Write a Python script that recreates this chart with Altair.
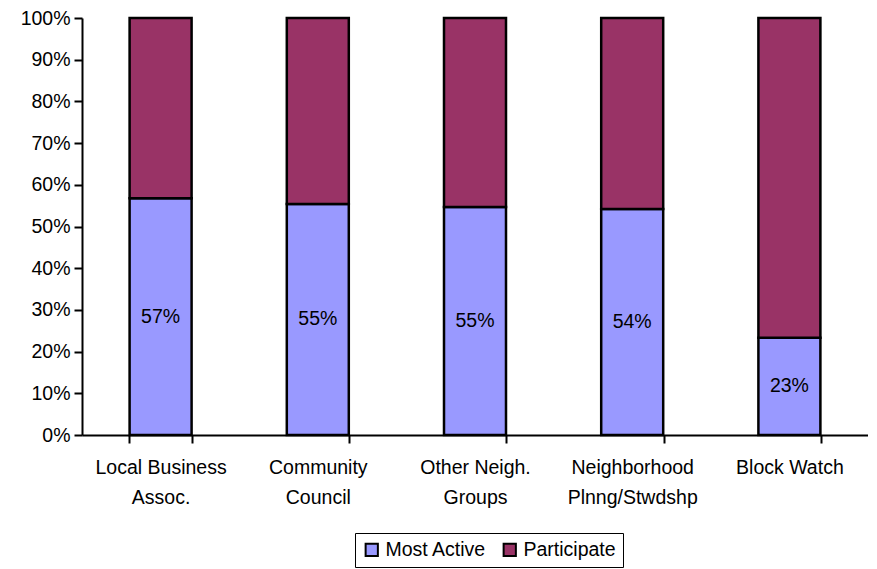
import altair as alt
import pandas as pd

categories = ["Local Business\nAssoc.", "Community\nCouncil", "Other Neigh.\nGroups",
              "Neighborhood\nPlnng/Stwdshp", "Block Watch"]
most_active = [0.568, 0.554, 0.547, 0.542, 0.233]
series = ["Most Active", "Participate"]
colors = ["#9999FF", "#993366"]

rows = []
for c, m in zip(categories, most_active):
    rows.append({"cat": c, "series": "Most Active", "val": m, "order": 0})
    rows.append({"cat": c, "series": "Participate", "val": 1 - m, "order": 1})
df = pd.DataFrame(rows)
lab = pd.DataFrame({"cat": categories, "val": most_active,
                    "mid": [m / 2 for m in most_active]})

FONT = "Liberation Sans"
FS = 19.5

x = alt.X("cat:N", sort=categories, title=None,
          scale=alt.Scale(paddingInner=0.6, paddingOuter=0.3),
          axis=alt.Axis(labelExpr="isValid(datum.value) ? split(datum.value, '\\n') : ''",
                        labelAngle=0,
                        labelFontSize=FS, labelFont=FONT, labelColor="black",
                        labelPadding=15, labelLineHeight=30,
                        tickBand="extent", tickColor="black", tickSize=8,
                        tickWidth=2, domainColor="black", domainWidth=2))

bars = alt.Chart(df).mark_bar(stroke="black", strokeWidth=2.5, size=62).encode(
    x=x,
    y=alt.Y("val:Q", stack="zero", title=None,
            scale=alt.Scale(domain=[0, 1], nice=False),
            axis=alt.Axis(format=".0%", values=[i / 10 for i in range(11)],
                          labelFontSize=FS, labelFont=FONT, labelColor="black",
                          tickColor="black", tickSize=8, tickWidth=2,
                          domainColor="black", domainWidth=2, grid=False,
                          labelPadding=4)),
    color=alt.Color("series:N", sort=series,
                    scale=alt.Scale(domain=series, range=colors),
                    legend=alt.Legend(title=None, orient="none", legendX=273, legendY=515,
                                      direction="horizontal",
                                      labelFontSize=FS, labelFont=FONT, labelColor="black",
                                      symbolType="square", symbolSize=150,
                                      symbolStrokeColor="black", symbolStrokeWidth=2,
                                      strokeColor="black", padding=7, columnPadding=12,
                                      labelOffset=4)),
    order=alt.Order("order:Q"),
)

texts = alt.Chart(lab).mark_text(fontSize=FS, font=FONT, color="black").encode(
    x=alt.X("cat:N", sort=categories),
    y=alt.Y("mid:Q"),
    text=alt.Text("val:Q", format=".0%"),
)

chart = (bars + texts).properties(
    width=786, height=417,
    padding={"left": 12, "top": 0, "right": 0, "bottom": 0},
).configure_view(stroke=None)

chart.save("out.html", embed_options={"renderer": "svg", "actions": False})
